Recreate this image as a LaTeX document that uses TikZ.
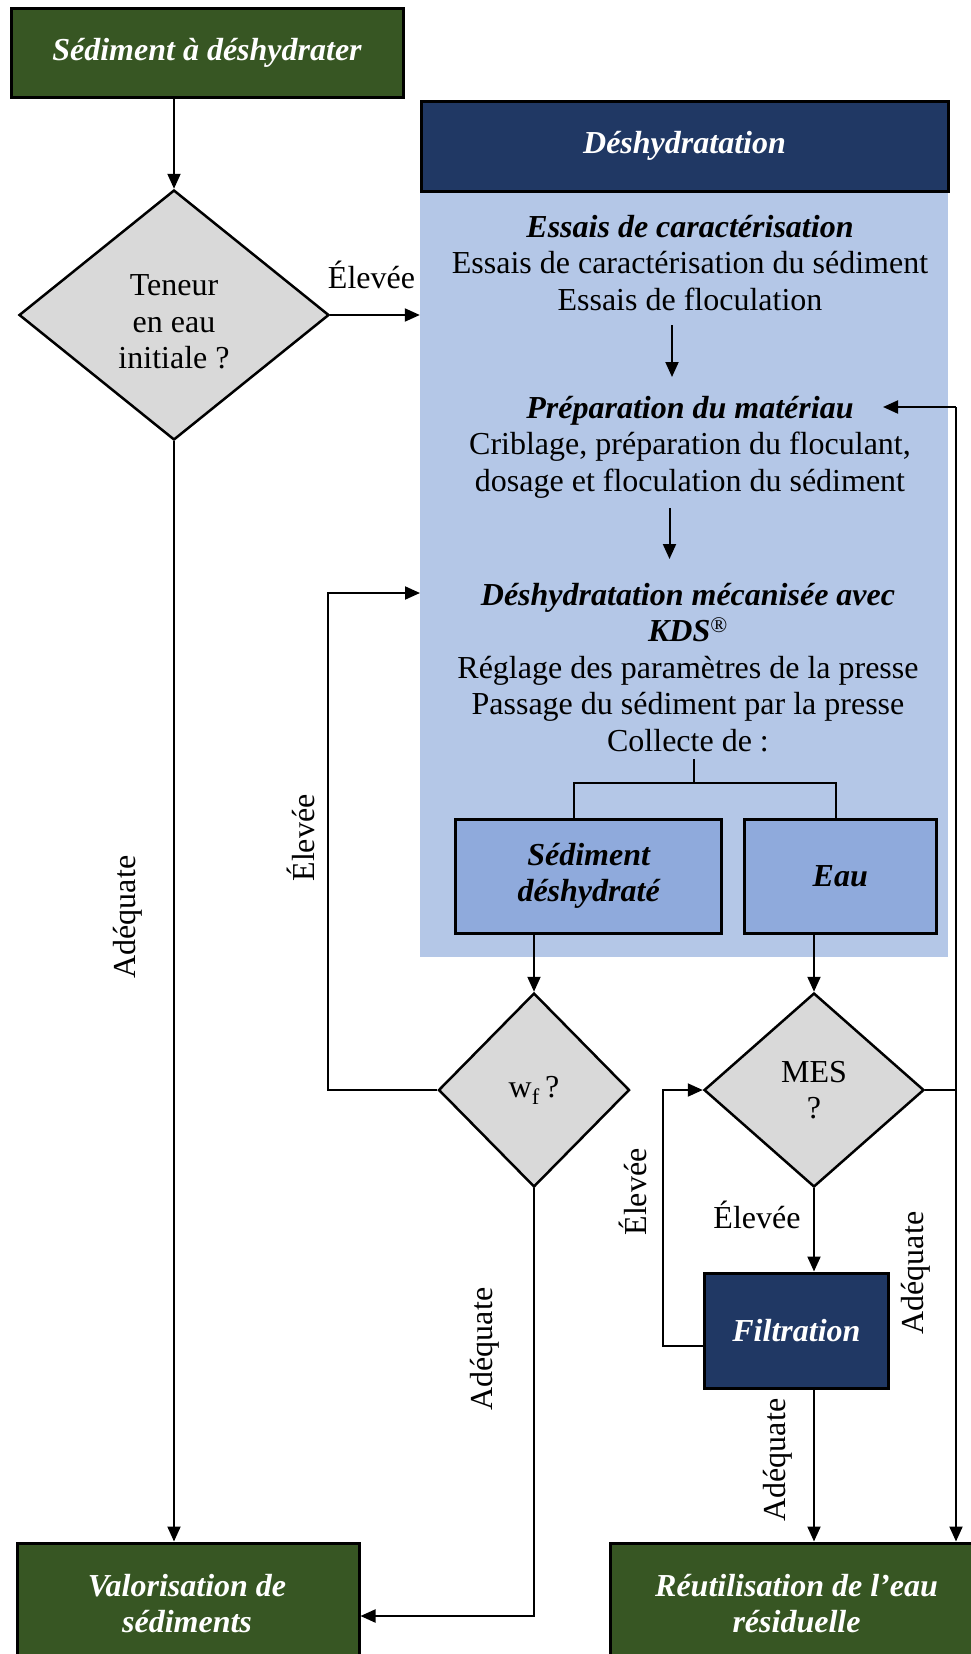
\documentclass[tikz,border=0pt]{standalone}
\usepackage{fontspec}
\setmainfont{Liberation Serif}
\usetikzlibrary{shapes.geometric,arrows.meta,calc}
\definecolor{dgreen}{HTML}{375623}
\definecolor{navy}{HTML}{203864}
\definecolor{lblue}{HTML}{B4C7E7}
\definecolor{mblue}{HTML}{8FAADC}
\definecolor{dgray}{HTML}{D9D9D9}
\begin{document}
\begin{tikzpicture}[x=1pt,y=-1pt,
  every node/.style={font=\fontsize{32}{36.5}\selectfont, inner sep=0pt},
  ln/.style={line width=2pt},
  arr/.style={line width=2pt,-{Triangle[length=15pt,width=13pt]}},
  bx/.style={draw=black,line width=3pt,rectangle},
  dia/.style={diamond,draw=black,fill=dgray,line width=2.5pt,inner sep=0pt,aspect=1},
  bi/.style={font=\fontsize{32}{36.5}\selectfont\bfseries\itshape},
  wbi/.style={bi,text=white}
]
\clip (0,0) rectangle (971,1654);

% main boxes
\node[bx, fill=dgreen, minimum width=392pt, minimum height=88pt, wbi] (top) at (207,53) {Sédiment à déshydrater};
\node[fill=lblue, minimum width=528pt, minimum height=766pt] (blue) at (684,574) {};
\node[bx, fill=navy, minimum width=527pt, minimum height=90pt, wbi] (head) at (684.5,146) {Déshydratation};

% text groups in the blue area
\node[align=center] (g1) at (690,263) {\textbf{\textit{Essais de caractérisation}}\\Essais de caractérisation du sédiment\\Essais de floculation};
\node[align=center] (g2) at (690,447) {\textbf{\textit{Préparation du matériau}}\\Criblage, préparation du floculant,\\dosage et floculation du sédiment};
\node[align=center] (g3) at (688,667.5) {\textbf{\textit{Déshydratation mécanisée avec}}\\\textbf{\textit{KDS}}\textsuperscript{®}\\Réglage des paramètres de la presse\\Passage du sédiment par la presse\\Collecte de :};

\node[bx, fill=mblue, minimum width=266pt, minimum height=114pt, bi, align=center] (sed) at (588.6,876) {Sédiment\\déshydraté};
\node[bx, fill=mblue, minimum width=192.6pt, minimum height=114pt, bi] (eau) at (840.3,876) {Eau};

% decisions
\node[dia, minimum width=310pt, minimum height=250pt] (d1) at (174,315) {};
\node[align=center] (d1t) at (174,322) {Teneur\\en eau\\initiale ?};
\node[dia, minimum width=191pt, minimum height=194pt] (wf) at (534,1090) {w\textsubscript{f}\,?};
\node[dia, minimum width=220pt, minimum height=194pt, align=center] (mes) at (814,1090) {MES\\?};

\node[bx, fill=navy, minimum width=184pt, minimum height=115pt, wbi] (filt) at (796.4,1330.5) {Filtration};

% bottom boxes
\node[bx, fill=dgreen, minimum width=342pt, minimum height=160pt] (valo) at (188,1623) {};
\node[wbi, align=center] (valot) at (187,1603.5) {Valorisation de\\sédiments};
\node[bx, fill=dgreen, minimum width=390pt, minimum height=160pt] (reut) at (805,1623) {};
\node[wbi, align=center] (reutt) at (796.5,1603.5) {Réutilisation de l’eau\\résiduelle};

% helper coordinates
\coordinate (a1s) at (672,325);
\coordinate (a1e) at (672,377);
\coordinate (a2s) at (669.5,508);
\coordinate (a2e) at (669.5,559);
\coordinate (kin) at (420,593);
\coordinate (t0) at (693.5,759);
\coordinate (t1) at (693.5,783);
\coordinate (rtop) at (956,407);
\coordinate (ptip) at (883,407);

% connectors
\draw[arr] (top.south -| d1.north) -- (d1.north);
\draw[arr] (d1.east) -- (d1.east -| blue.west);
\draw[arr] (d1.south) -- (d1.south |- valo.north);
\draw[arr] (a1s) -- (a1e);
\draw[arr] (a2s) -- (a2e);
\draw[ln] (t0) -- (t1);
\draw[ln] ([xshift=-14.6pt]sed.north) |- (t1) -| ([xshift=-4.8pt]eau.north);
\draw[arr] (sed.south -| wf.north) -- (wf.north);
\draw[arr] (eau.south -| mes.north) -- (mes.north);
\draw[arr] (wf.west) -- ++(-109,0) |- (kin);
\draw[arr] (wf.south) |- ([yshift=7pt]valo.east);
\draw[arr] (mes.south) -- (mes.south |- filt.north);
\draw[arr] ([yshift=-15.5pt]filt.west) -- ++(-40,0) |- (mes.west);
\draw[arr] (filt.south -| mes.south) -- (mes.south |- reut.north);
\draw[ln] (mes.east) -- (mes.east -| rtop);
\draw[arr] (rtop) -- (ptip);
\draw[arr] (rtop) -- (rtop |- reut.north);

% labels
\node (l1) at (371.5,275) {Élevée};
\node[rotate=90] (l2) at (127.6,917) {Adéquate};
\node[rotate=90] (l3) at (300.5,838) {Élevée};
\node[rotate=90] (l4) at (485,1349) {Adéquate};
\node (l5) at (757,1215) {Élevée};
\node[rotate=90] (l6) at (633,1192) {Élevée};
\node[rotate=90] (l7) at (916,1273) {Adéquate};
\node[rotate=90] (l8) at (778,1460) {Adéquate};
\end{tikzpicture}
\end{document}
